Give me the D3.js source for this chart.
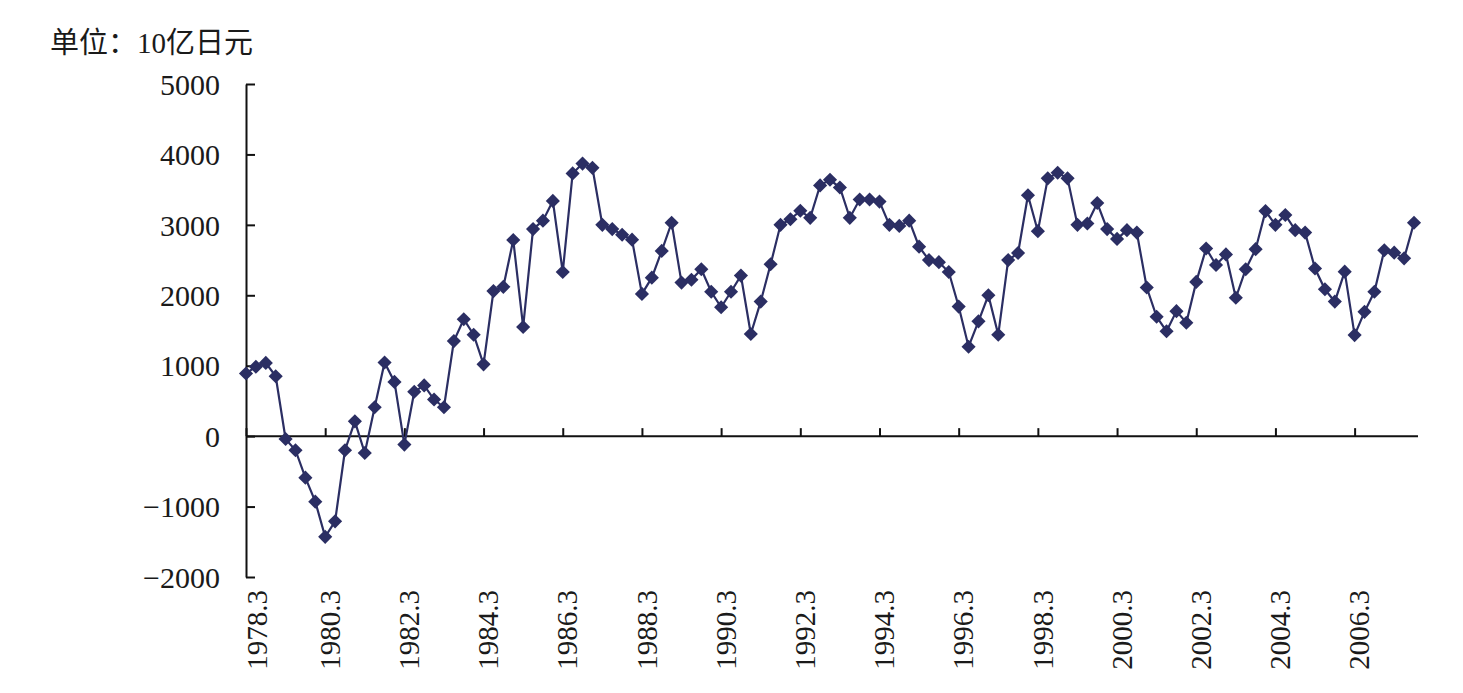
<!DOCTYPE html>
<html>
<head>
<meta charset="utf-8">
<script src="https://cdn.jsdelivr.net/npm/d3@7"></script>
<style>
	body { margin: 0; background: #fff; }
	text { font-family: "Liberation Serif", "Noto Sans CJK SC", serif; fill: #1a1a1a; }
</style>
</head>
<body>
<div id="chart"></div>
<script>
// quarterly periods, 1978.3 .. 2007.9
var categories = [];
for(var yr = 1978; yr <= 2007; yr++) {
	[3, 6, 9, 12].forEach(function(m) { categories.push(yr + '.' + m); });
}
categories = categories.slice(0, 119);

var values = [
	890, 985, 1040, 850, -40, -200, -590, -930, -1430, -1210,
	-200, 210, -240, 410, 1045, 770, -120, 630, 720, 520,
	410, 1350, 1660, 1440, 1020, 2060, 2120, 2785, 1550, 2940,
	3060, 3340, 2330, 3730, 3870, 3810, 3000, 2940, 2860, 2790,
	2020, 2250, 2630, 3030, 2180, 2220, 2370, 2050, 1830, 2050,
	2280, 1450, 1910, 2440, 3000, 3080, 3200, 3100, 3560, 3640,
	3530, 3100, 3360, 3360, 3330, 3000, 2985, 3060, 2690, 2500,
	2470, 2330, 1840, 1270, 1630, 2000, 1440, 2500, 2600, 3420,
	2910, 3660, 3740, 3660, 3000, 3020, 3310, 2940, 2800, 2925,
	2890, 2110, 1695, 1490, 1775, 1610, 2190, 2665, 2430, 2580,
	1965, 2370, 2655, 3195, 3000, 3140, 2925, 2890, 2380, 2085,
	1910, 2335, 1435, 1765, 2050, 2640, 2605, 2525, 3030
];

var tickLabels = ['1978.3', '1980.3', '1982.3', '1984.3', '1986.3', '1988.3', '1990.3',
	'1992.3', '1994.3', '1996.3', '1998.3', '2000.3', '2002.3', '2004.3', '2006.3'];

var yTicks = [-2000, -1000, 0, 1000, 2000, 3000, 4000, 5000];

var unitLabel = '单位：10亿日元';

var width = 1463, height = 693;
var color = '#2b2e63';

var svg = d3.select('#chart').append('svg')
	.attr('width', width)
	.attr('height', height);

var x = d3.scaleLinear()
	.domain([0, categories.length - 1])
	.range([246, 1414]);

var y = d3.scaleLinear()
	.domain([-2000, 5000])
	.range([577, 84]);

// y axis, ticks pointing inwards
var yAxis = svg.append('g')
	.attr('transform', 'translate(' + x(0) + ',0)')
	.call(d3.axisLeft(y)
		.tickValues(yTicks)
		.tickSizeInner(-9)
		.tickSizeOuter(0)
		.tickPadding(26)
		.tickFormat(function(d) { return d < 0 ? '\u2212' + Math.abs(d) : d; }));

yAxis.selectAll('path, line').attr('stroke', '#111').attr('stroke-width', 2);
yAxis.selectAll('text')
	.style('font-size', '30px')
	.attr('dy', '0.34em');

// x axis sits on zero
var xAxis = svg.append('g')
	.attr('transform', 'translate(0,' + y(0) + ')')
	.call(d3.axisBottom(x)
		.tickValues(tickLabels.map(function(l) { return categories.indexOf(l); }))
		.tickSizeInner(-8)
		.tickSizeOuter(0)
		.tickFormat(function(i) { return categories[i]; }));

xAxis.select('.domain').remove();
xAxis.append('line')
	.attr('x1', x(0))
	.attr('x2', 1418)
	.attr('stroke', '#111')
	.attr('stroke-width', 2);
xAxis.selectAll('.tick line').attr('stroke', '#111').attr('stroke-width', 2);
xAxis.selectAll('.tick text')
	.attr('transform', 'rotate(-90)')
	.attr('x', -(590 - y(0)))
	.attr('y', function(d, i) { return i == 0 ? 10 : 4; })
	.attr('dy', '0.35em')
	.style('text-anchor', 'end')
	.style('font-size', '29px');

// series
var line = d3.line()
	.x(function(d, i) { return x(i); })
	.y(function(d) { return y(d); });

svg.append('path')
	.datum(values)
	.attr('d', line)
	.attr('fill', 'none')
	.attr('stroke', color)
	.attr('stroke-width', 2.2);

svg.selectAll('.marker')
	.data(values)
	.enter()
		.append('path')
			.attr('class', 'marker')
			.attr('d', d3.symbol(d3.symbolSquare, 100))
			.attr('transform', function(d, i) {
				return 'translate(' + x(i) + ',' + y(d) + ') rotate(45)';
			})
			.attr('fill', color);

svg.append('text')
	.attr('x', 50)
	.attr('y', 53)
	.style('font-size', '29px')
	.text(unitLabel);
</script>
</body>
</html>
